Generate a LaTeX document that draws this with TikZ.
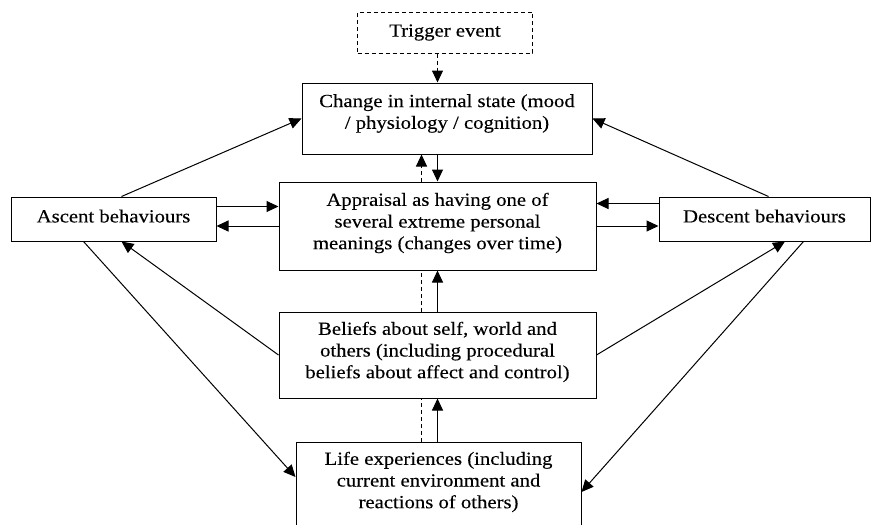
\documentclass[tikz,border=0pt]{standalone}
\usepackage{fontspec}
\setmainfont{Liberation Serif}[FakeStretch=1.12,FakeBold=0.2]
\usetikzlibrary{arrows.meta}
\begin{document}
\begin{tikzpicture}[x=1pt,y=-1pt,line width=1pt]
    \tikzstyle{every node}=[draw,shape=rectangle,fill=white,align=center,inner sep=0pt,
      font=\fontsize{18.5}{21.7}\selectfont];
    \tikzstyle{arr}=[-{Triangle[length=12pt,width=11pt]}];
    \tikzstyle{dashline}=[dash pattern=on 4pt off 3pt];
    \useasboundingbox (0,0) rectangle (871,525);
    %\node (name) at (x,y) [minimum width=..,minimum height=..] {text};
    \node (trigger) at (445,32.5) [dashline,minimum width=175,minimum height=41] {Trigger event};
    \node (change) at (447,118.5) [minimum width=290,minimum height=71,text depth=14pt] {Change in internal state (mood\\/ physiology / cognition)};
    \node (appraisal) at (437.5,226) [minimum width=317,minimum height=88,text depth=10pt] {Appraisal as having one of\\several extreme personal\\meanings (changes over time)};
    \node (beliefs) at (437.5,355) [minimum width=317,minimum height=86,text depth=10pt] {Beliefs about self, world and\\others (including procedural\\beliefs about affect and control)};
    \node (life) at (438.5,485) [minimum width=285,minimum height=86,text depth=10pt] {Life experiences (including\\current environment and\\reactions of others)};
    \node (ascent) at (113.5,219) [minimum width=205,minimum height=44,text depth=6pt] {Ascent behaviours};
    \node (descent) at (764.5,219) [minimum width=211,minimum height=44,text depth=6pt] {Descent behaviours};
    % middle column
    \draw[arr,dashline] (trigger.south -| appraisal) -- (change.north -| appraisal);
    \draw[arr] (change.south -| appraisal) -- (appraisal.north);
    \draw[arr,dashline] ([xshift=-16pt]appraisal.north) -- ([xshift=-16pt]appraisal.north |- change.south);
    \draw[arr] (beliefs.north) -- (appraisal.south);
    \draw[dashline] ([xshift=-16pt]beliefs.north) -- ([xshift=-16pt]appraisal.south);
    \draw[arr] (beliefs.south |- life.north) -- (beliefs.south);
    \draw[dashline] ([xshift=-16pt]beliefs.south |- life.north) -- ([xshift=-16pt]beliefs.south);
    % sides
    \draw[arr] ([yshift=-10pt]ascent.north east) -- ([yshift=-10pt]ascent.north east -| appraisal.west);
    \draw[arr] (appraisal.west) -- (appraisal.west -| ascent.east);
    \draw[arr] ([yshift=-7pt]descent.north west) -- ([yshift=-7pt]descent.north west -| appraisal.east);
    \draw[arr] (appraisal.east) -- (appraisal.east -| descent.west);
    \draw[arr] ([xshift=8pt]ascent.north) -- (change.west);
    \draw[arr] ([xshift=4pt]descent.north) -- (change.east);
    \draw[arr] (beliefs.west) -- ([xshift=8pt]ascent.south);
    \draw[arr] (beliefs.east) -- ([xshift=20.5pt]descent.south);
    \draw[arr] ([xshift=-30pt]ascent.south) -- ([yshift=8pt]life.west);
    \draw[arr] ([xshift=39pt]descent.south) -- ([yshift=-7pt]life.east);
  \end{tikzpicture}
\end{document}
